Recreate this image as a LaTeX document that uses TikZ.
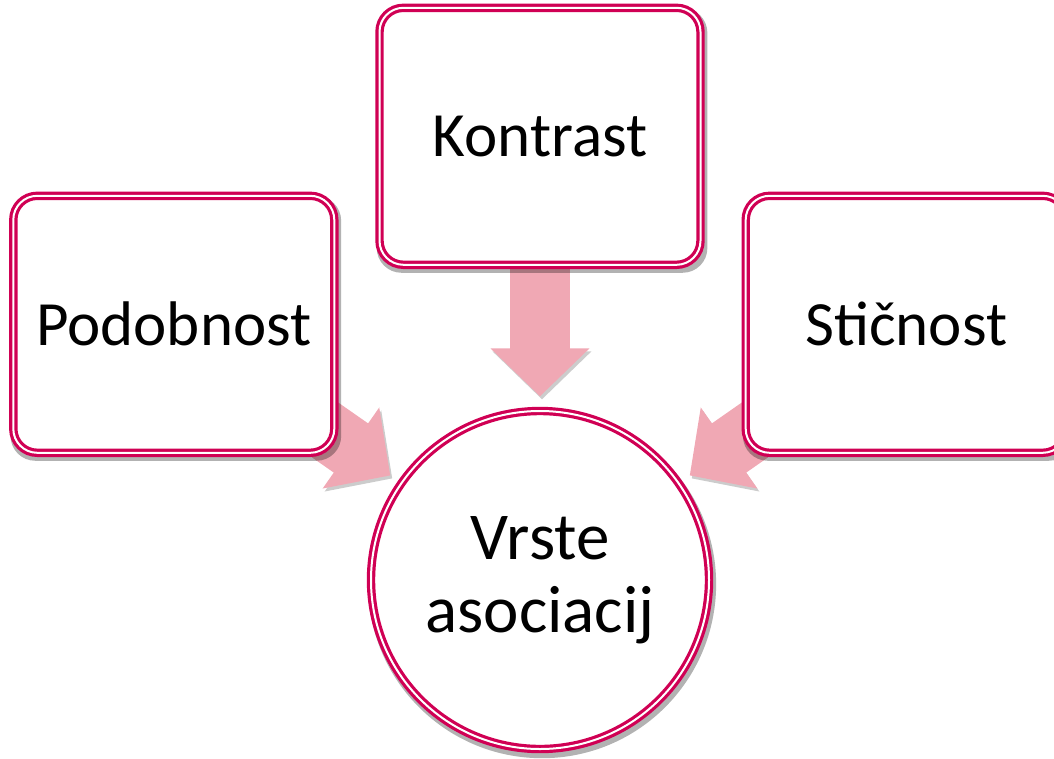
\documentclass[tikz,border=0pt]{standalone}
\usepackage{fontspec}
\setmainfont{Carlito}
\usetikzlibrary{positioning, shadows, arrows.meta, backgrounds}
\definecolor{rim}{RGB}{208,0,84}
\definecolor{flow}{RGB}{240,168,180}

\tikzset{
    tile/.style={draw=rim, double=white, double distance=2pt, line width=3.2pt,
        fill=white, rounded corners=24pt, minimum width=321pt, minimum height=257pt,
        inner sep=0pt, font=\fontsize{63}{72}\selectfont,
        drop shadow={shadow xshift=2pt, shadow yshift=-4pt, shadow scale=1.03, opacity=0.3, fill=black}},
    bubble/.style={tile, circle, minimum size=338pt, align=center, font=\fontsize{67}{73}\selectfont},
    flowarrow/.style={draw=flow, line width=60pt, -{Triangle[width=96pt,length=48pt]},
        shorten >=12pt, preaction={draw=black, opacity=0.2, transform canvas={shift={(2pt,-3pt)}}}}
}

\begin{document}
\begin{tikzpicture}[x=1pt, y=1pt]
            \path[use as bounding box, clip] (0,0) rectangle (1054,-758);
            \node[bubble] (vrste) at (540,-580) {Vrste\\asociacij};
            \node[tile, above=143pt of vrste] (kontrast) {Kontrast};
            \node[tile, left=42pt of kontrast, yshift=-188pt] (podobnost) {Podobnost};
            \node[tile, right=42pt of kontrast, yshift=-188pt] (sticnost) {Stičnost};
            \begin{scope}[on background layer]
                \draw[flowarrow, shorten >=13pt] (kontrast.center) -- (vrste);
                \draw[flowarrow] (podobnost.center) -- (vrste);
                \draw[flowarrow] (sticnost.center) -- (vrste);
            \end{scope}
        \end{tikzpicture}
\end{document}
